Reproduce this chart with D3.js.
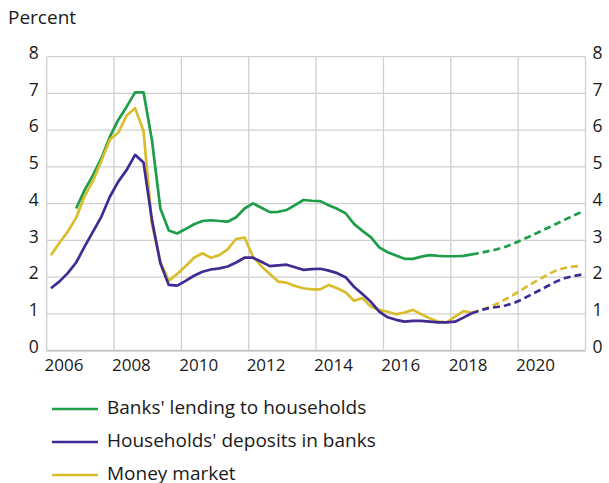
<!DOCTYPE html>
<html>
<head>
<meta charset="utf-8">
<script src="https://cdn.jsdelivr.net/npm/d3@7"></script>
<style>
  body { margin: 0; background: #fff; }
  text { font-family: "Open Sans", sans-serif; fill: #1a1a1a; }
</style>
</head>
<body>
<div id="wrapper"></div>
<script>
// quarterly data, 2006Q1 onwards (plotted mid-quarter)
const firstYear = 2006;
const yearTicks = [2006, 2008, 2010, 2012, 2014, 2016, 2018, 2020];
const yTicks = [0, 1, 2, 3, 4, 5, 6, 7, 8];

const seriesNames = ["Banks' lending to households", "Households' deposits in banks", "Money market"];
const seriesColors = ["#1e9e48", "#412b93", "#d9bd2d"];

// Banks' lending to households, starts 2006Q4
const lendingStart = 3; // quarter index
const lending = [
    3.87,
    4.37, 4.78, 5.24, 5.82,
    6.28, 6.64, 7.03, 7.03,
    5.73, 3.87, 3.27, 3.19,
    3.31, 3.44, 3.53, 3.55,
    3.53, 3.51, 3.63, 3.87,
    4.01, 3.89, 3.77, 3.78,
    3.83, 3.96, 4.10, 4.08,
    4.07, 3.96, 3.86, 3.74,
    3.45, 3.26, 3.09, 2.81,
    2.68, 2.59, 2.50, 2.50,
    2.56, 2.60, 2.58, 2.57,
    2.57, 2.58, 2.62
];
// Households' deposits in banks, starts 2006Q1
const deposits = [
    1.70, 1.88, 2.11, 2.40,
    2.83, 3.24, 3.65, 4.19,
    4.60, 4.92, 5.33, 5.12,
    3.56, 2.38, 1.79, 1.77,
    1.90, 2.04, 2.15, 2.21,
    2.24, 2.29, 2.40, 2.53,
    2.53, 2.42, 2.30, 2.32,
    2.34, 2.27, 2.20, 2.22,
    2.23, 2.18, 2.11, 2.00,
    1.74, 1.54, 1.33, 1.06,
    0.91, 0.84, 0.79, 0.81,
    0.81, 0.79, 0.77, 0.77,
    0.79, 0.90, 1.02
];
// Money market rate, starts 2006Q1
const moneyMarket = [
    2.60, 2.93, 3.24, 3.62,
    4.20, 4.62, 5.17, 5.75,
    5.93, 6.40, 6.60, 5.98,
    3.45, 2.42, 1.90, 2.09,
    2.30, 2.53, 2.65, 2.53,
    2.60, 2.76, 3.04, 3.08,
    2.56, 2.30, 2.09, 1.88,
    1.85, 1.76, 1.70, 1.67,
    1.67, 1.79, 1.70, 1.59,
    1.36, 1.43, 1.20, 1.11,
    1.06, 0.99, 1.04, 1.11,
    0.99, 0.88, 0.79, 0.77,
    0.93, 1.08, 1.03
];

// projections 2018Q3 - 2021Q4 (dashed)
const projStart = 50; // quarter index of 2018Q3
const lendingProj = [2.62, 2.66, 2.71, 2.76, 2.83, 2.92, 3.02, 3.12, 3.23, 3.34, 3.45, 3.56, 3.67, 3.77];
const depositsProj = [1.02, 1.10, 1.16, 1.19, 1.23, 1.30, 1.40, 1.52, 1.64, 1.76, 1.88, 1.97, 2.03, 2.07];
const moneyMarketProj = [1.03, 1.10, 1.18, 1.28, 1.40, 1.53, 1.67, 1.81, 1.94, 2.07, 2.18, 2.25, 2.29, 2.31];

const width = 609, height = 483;
const margin = { top: 56.7, left: 46.7, right: 23.5, bottom: 132.3 };
const boundedWidth = width - margin.left - margin.right;
const boundedHeight = height - margin.top - margin.bottom;

const svg = d3.select("#wrapper").append("svg")
    .attr("width", width)
    .attr("height", height);

const bounded = svg.append("g")
    .attr("transform", `translate(${margin.left}, ${margin.top})`);

const xScale = d3.scaleLinear()
    .domain([firstYear, 2022])
    .range([0, boundedWidth]);

const yScale = d3.scaleLinear()
    .domain([0, 8])
    .range([boundedHeight, 0]);

const quarterTime = (i) => firstYear + (i + 0.5) / 4;

// grid
bounded.append("g")
    .selectAll("line")
    .data(yTicks.slice(1))
    .join("line")
    .attr("x1", 0).attr("x2", boundedWidth)
    .attr("y1", d => yScale(d)).attr("y2", d => yScale(d))
    .attr("stroke", "#d0d0d0")
    .attr("stroke-width", 1.3);

bounded.append("g")
    .selectAll("line")
    .data(yearTicks.concat([2022]))
    .join("line")
    .attr("x1", d => xScale(d)).attr("x2", d => xScale(d))
    .attr("y1", 0).attr("y2", boundedHeight)
    .attr("stroke", "#d0d0d0")
    .attr("stroke-width", 1.3);

// bottom axis line
bounded.append("line")
    .attr("x1", 0).attr("x2", boundedWidth)
    .attr("y1", boundedHeight).attr("y2", boundedHeight)
    .attr("stroke", "#c8c8c8")
    .attr("stroke-width", 2);

// y labels left and right
const yLeft = d3.axisLeft(yScale).tickValues(yTicks).tickSize(0).tickPadding(8);
const yRight = d3.axisRight(yScale).tickValues(yTicks).tickSize(0).tickPadding(7);
const styleAxis = (g) => {
    g.select(".domain").remove();
    g.selectAll("text")
        .attr("font-family", "Open Sans")
        .attr("font-size", 17.5)
        .attr("fill", "#1a1a1a")
        .attr("dy", "0.1em");
};
bounded.append("g").call(yLeft).call(styleAxis);
bounded.append("g").attr("transform", `translate(${boundedWidth},0)`).call(yRight).call(styleAxis);

// x labels at mid-year
const xAxis = d3.axisBottom(xScale)
    .tickValues(yearTicks.map(d => d + 0.5))
    .tickFormat(d => String(Math.floor(d)))
    .tickSize(0).tickPadding(8);
bounded.append("g")
    .attr("transform", `translate(0,${boundedHeight})`)
    .call(xAxis)
    .call(g => {
        g.select(".domain").remove();
        g.selectAll("text").attr("font-family", "Open Sans").attr("font-size", 17).attr("fill", "#1a1a1a");
    });

svg.append("text")
    .attr("x", 8).attr("y", 23.5)
    .attr("font-size", 19)
    .text("Percent");

// lines
const line = d3.line()
    .x(d => xScale(d.t))
    .y(d => yScale(d.v));

const toPoints = (values, start) => values.map((v, i) => ({ t: quarterTime(start + i), v: v }));

const solid = [toPoints(lending, lendingStart), toPoints(deposits, 0), toPoints(moneyMarket, 0)];
const dashed = [toPoints(lendingProj, projStart), toPoints(depositsProj, projStart), toPoints(moneyMarketProj, projStart)];

[0, 2, 1].forEach(k => {
    bounded.append("path")
        .attr("d", line(solid[k]))
        .attr("fill", "none")
        .attr("stroke", seriesColors[k])
        .attr("stroke-width", 2.7)
        .attr("stroke-linejoin", "round");
    bounded.append("path")
        .attr("d", line(dashed[k]))
        .attr("fill", "none")
        .attr("stroke", seriesColors[k])
        .attr("stroke-width", 2.7)
        .attr("stroke-dasharray", "7,4");
});

// legend
const legend = svg.append("g").attr("transform", "translate(52, 409)");
seriesNames.forEach((name, i) => {
    const row = legend.append("g").attr("transform", `translate(0, ${i * 33})`);
    row.append("line")
        .attr("x1", 0).attr("x2", 46)
        .attr("y1", 0).attr("y2", 0)
        .attr("stroke", seriesColors[i])
        .attr("stroke-width", 2.7);
    row.append("text")
        .attr("x", 55).attr("y", 5)
        .attr("font-size", 19)
        .text(name);
});
</script>
</body>
</html>
